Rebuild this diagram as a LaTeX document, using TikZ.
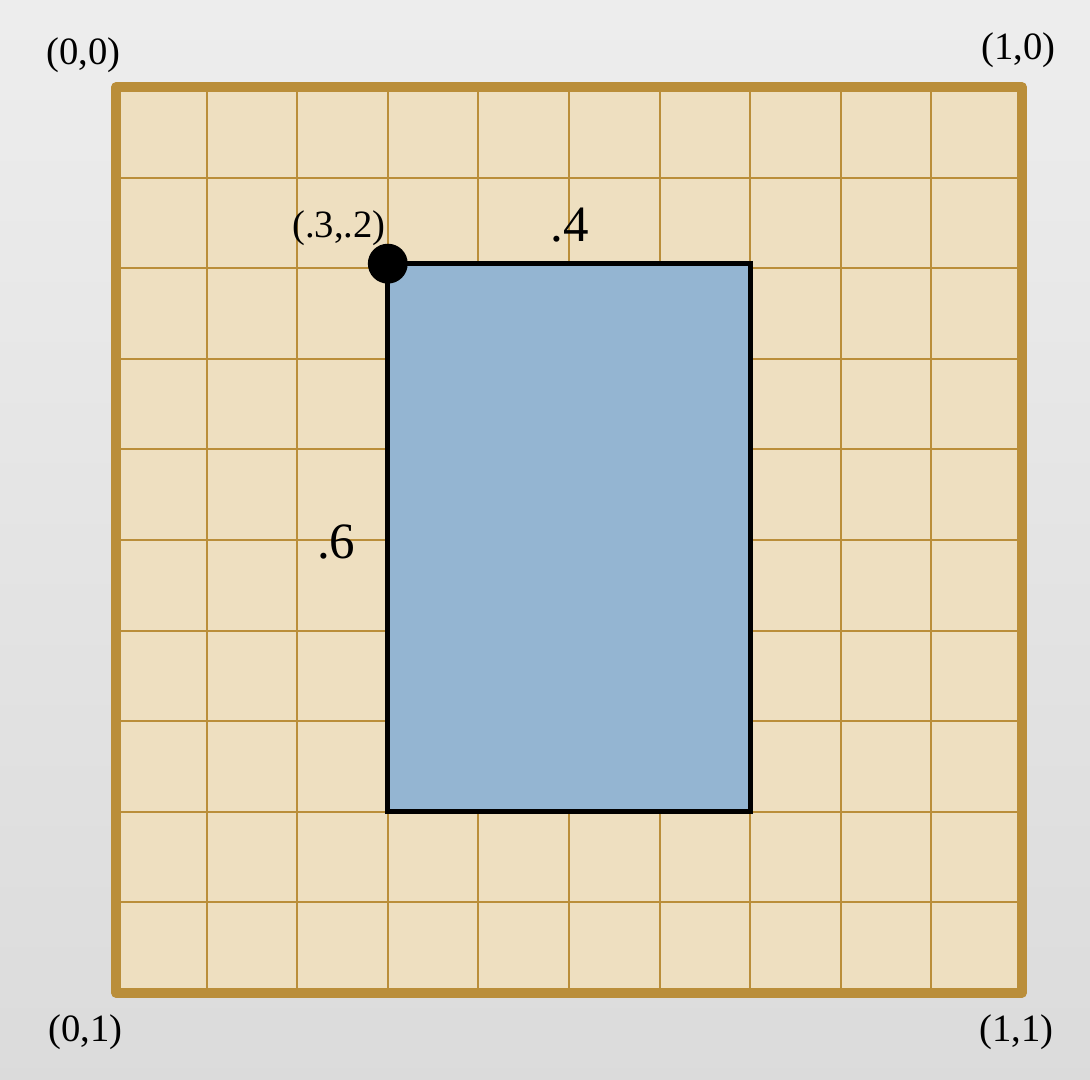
\documentclass[tikz,border=0pt]{standalone}
\usepackage{fontspec}
\setmainfont{Liberation Serif}
\usepackage{tikz}

\definecolor{sand}{HTML}{EEDFC0}
\definecolor{gold}{HTML}{BA8E3A}
\definecolor{steel}{HTML}{94B5D2}

\tikzset{
  lbl/.style={inner sep=0pt, font=\fontsize{11}{13}\selectfont},
  biglbl/.style={inner sep=0pt, font=\fontsize{14.5}{17}\selectfont},
  gridline/.style={gold, line width=0.6pt},
}

\begin{document}
\begin{tikzpicture}
% page and background
\useasboundingbox (0,0) rectangle (10.9,10.8);
\shade[top color=gray!14, bottom color=gray!28] (0,0) rectangle (10.9,10.8);

\begin{scope}[shift={(1.16,9.93)}, x=0.906cm, y=-0.906cm]
% unit square with grid
\fill[sand] (0,0) rectangle (10,10);
\foreach \i in {1,...,9} {
  \draw[gridline] (\i,0) -- (\i,10);
  \draw[gridline] (0,\i) -- (10,\i);
}
\draw[gold, line width=2.6pt, line join=round] (0,0) rectangle (10,10);

% the sub-rectangle
\coordinate (tl) at (3,1.95);
\coordinate (br) at (7,8);
\filldraw[fill=steel, draw=black, line width=1.4pt] (tl) rectangle (br);
\fill[black] (tl) circle (0.22);

% corner labels
\path (-0.36,-0.35) node[lbl] (c00) {(0,0)};
\path (9.96,-0.41) node[lbl] (c10) {(1,0)};
\path (-0.34,10.43) node[lbl] (c01) {(0,1)};
\path (9.94,10.43) node[lbl] (c11) {(1,1)};

\path (2.46,1.56) node[lbl] (corner) {(.3,.2)};
\path (5.01,1.52) node[biglbl] (wdth) {.4};
\path (2.43,5.02) node[biglbl] (hght) {.6};
\end{scope}
\end{tikzpicture}
\end{document}
